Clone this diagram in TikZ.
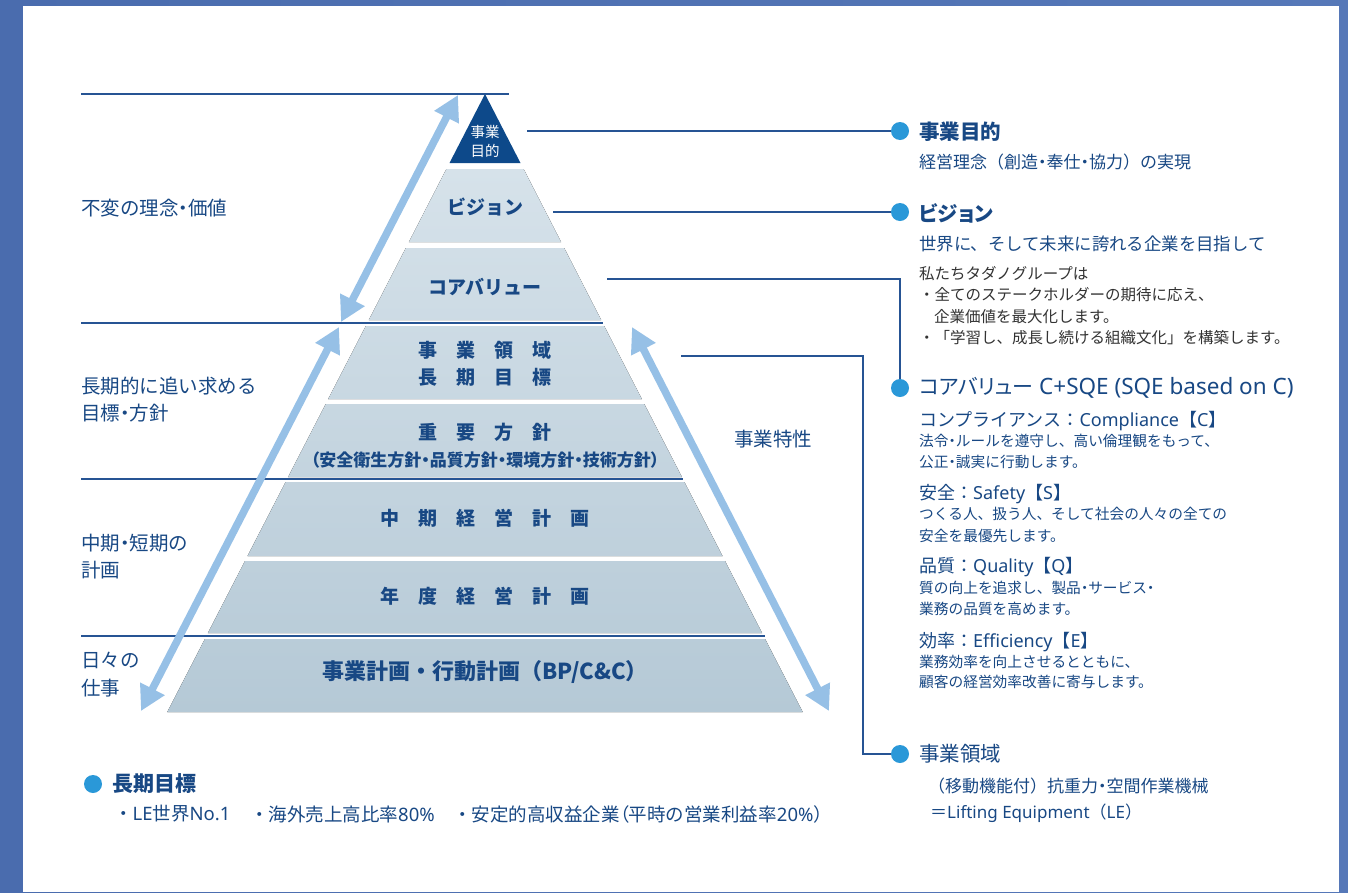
\documentclass[tikz,border=0pt]{standalone}
\usepackage{fontspec}
\setmainfont{Noto Sans CJK JP}
\newfontfamily\pfont{Noto Sans CJK JP}[RawFeature={+palt}]
\newfontfamily\lat{Noto Sans}
\usetikzlibrary{arrows.meta}
\definecolor{frameA}{RGB}{74,108,174}
\definecolor{frameB}{RGB}{86,120,184}
\definecolor{txtC}{RGB}{24,72,132}
\definecolor{grayC}{RGB}{51,51,51}
\definecolor{connC}{RGB}{38,84,148}
\definecolor{dotC}{RGB}{42,152,216}
\definecolor{arrC}{RGB}{150,192,230}
\definecolor{apexC}{RGB}{13,73,138}
\definecolor{pyrA}{RGB}{214,226,234}
\definecolor{pyrB}{RGB}{181,201,214}
\newcommand\fsz[1]{\fontsize{#1pt}{#1pt}\selectfont}
\newcommand\pd{{\pfont ・}}
\begin{document}
\begin{tikzpicture}[x=1pt,y=-1pt,
  conn/.style={draw=connC, line width=1.3pt},
  sepline/.style={draw=connC, line width=1.8pt},
  dot/.style={circle, fill=dotC, minimum size=18pt, inner sep=0pt},
  bigarrow/.style={draw=arrC, line width=7.5pt, {Triangle[length=25pt,width=26pt]}-{Triangle[length=25pt,width=26pt]}},
  tw/.style={anchor=west, inner sep=0pt, text=txtC},
  tc/.style={anchor=center, inner sep=0pt, text=txtC},
  tg/.style={anchor=west, inner sep=0pt, text=grayC}]
\useasboundingbox (0,0) rectangle (1348,892);
\shade[left color=frameA, right color=frameB] (0,0) rectangle (1348,892);
\fill[white] (23,6) rectangle (1339,892);

% separators
\coordinate (h0a) at (81,94);  \coordinate (h0b) at (509,94);
\coordinate (h1a) at (81,323); \coordinate (h1b) at (603,323);
\coordinate (h2a) at (81,479); \coordinate (h2b) at (683,479);
\coordinate (h3a) at (81,636); \coordinate (h3b) at (765,636);

% pyramid tiers
\fill[apexC] (485,94) -- (520.5,163) -- (449.5,163) -- cycle;
\fill[top color=pyrB!0!pyrA, bottom color=pyrB!13!pyrA] (446.4,169) -- (523.6,169) -- (561.1,242) -- (408.9,242) -- cycle;
\fill[top color=pyrB!15!pyrA, bottom color=pyrB!28!pyrA] (405.8,248) -- (564.2,248) -- (601.2,320) -- (368.8,320) -- cycle;
\fill[top color=pyrB!29!pyrA, bottom color=pyrB!42!pyrA] (365.8,326) -- (604.2,326) -- (641.8,399) -- (328.2,399) -- cycle;
\fill[top color=pyrB!43!pyrA, bottom color=pyrB!57!pyrA] (325.7,404) -- (644.3,404) -- (681.9,477) -- (288.1,477) -- cycle;
\fill[top color=pyrB!58!pyrA, bottom color=pyrB!71!pyrA] (285.6,482) -- (684.4,482) -- (722.5,556) -- (247.5,556) -- cycle;
\fill[top color=pyrB!72!pyrA, bottom color=pyrB!86!pyrA] (245.0,561) -- (725.0,561) -- (762.1,633) -- (207.9,633) -- cycle;
\fill[top color=pyrB!87!pyrA, bottom color=pyrB!100!pyrA] (204.9,639) -- (765.1,639) -- (802.7,712) -- (167.3,712) -- cycle;

\draw[sepline] (h0a) -- (h0b);
\draw[sepline] (h1a) -- (h1b);
\draw[sepline] (h2a) -- (h2b);
\draw[sepline] (h3a) -- (h3b);

% big arrows
\coordinate (a1s) at (341,322); \coordinate (a1e) at (458,95);
\coordinate (a2s) at (141,711); \coordinate (a2e) at (339,327);
\coordinate (a3s) at (632,327); \coordinate (a3e) at (829,711);
\draw[bigarrow] (a1s) -- (a1e);
\draw[bigarrow] (a2s) -- (a2e);
\draw[bigarrow] (a3s) -- (a3e);

% pyramid texts
\node[tc, text=white, font=\fsz{14.5}] (p0a) at (485,132) {事業};
\node[tc, text=white, font=\fsz{14.5}] (p0b) at (485,151) {目的};
\node[tc, font=\fsz{19}\bfseries] (p1) at (485,207) {ビジョン};
\node[tc, font=\fsz{19}\bfseries] (p2) at (485,287) {コアバリュー};
\node[tc, font=\fsz{19}\bfseries] (p3a) at (485,350) {事　業　領　域};
\node[tc, font=\fsz{19}\bfseries] (p3b) at (485,377) {長　期　目　標};
\node[tc, font=\fsz{19}\bfseries] (p4a) at (485,432) {重　要　方　針};
\node[tc, font=\pfont\fsz{17}\bfseries] (p4b) at (485,460) {（安全衛生方針・品質方針・環境方針・技術方針）};
\node[tc, font=\fsz{19}\bfseries] (p5) at (485,518) {中　期　経　営　計　画};
\node[tc, font=\fsz{19}\bfseries] (p6) at (485,596) {年　度　経　営　計　画};
\node[tc, font=\fsz{22}\bfseries] (p7) at (485,672) {事業計画・行動計画（BP/C\&C）};

% left labels
\node[tw, font=\fsz{19.5}] (l1) at (81,208) {不変の理念\pd 価値};
\node[tw, font=\fsz{19.5}] (l2a) at (81,386) {長期的に追い求める};
\node[tw, font=\fsz{19.5}] (l2b) at (81,413) {目標\pd 方針};
\node[tw, font=\fsz{19.5}] (l3a) at (81,543) {中期\pd 短期の};
\node[tw, font=\fsz{19.5}] (l3b) at (81,570) {計画};
\node[tw, font=\fsz{19.5}] (l4a) at (81,660) {日々の};
\node[tw, font=\fsz{19.5}] (l4b) at (81,688) {仕事};
\node[tw, font=\fsz{19.5}] (tk) at (734,439) {事業特性};

% connectors
\coordinate (s1) at (527,131);
\coordinate (s2) at (553,212);
\coordinate (s3) at (607,279);
\coordinate (s4) at (681,356);
\coordinate (k4) at (863,356);
\node[dot] (d1) at (900,131) {};
\node[dot] (d2) at (900,212) {};
\node[dot] (d3) at (900,388) {};
\node[dot] (d4) at (900,754) {};
\draw[conn] (s1) -- (d1);
\draw[conn] (s2) -- (d2);
\draw[conn] (s3) -| (d3);
\draw[conn] (s4) -- (k4) |- (d4);

% right column
\node[tw, font=\pfont\fsz{20.5}\bfseries] (r1) at (919,132) {事業目的};
\node[tw, font=\fsz{17}] (r1b) at (919,162) {経営理念（創造\pd 奉仕\pd 協力）の実現};
\node[tw, font=\pfont\fsz{20.5}\bfseries] (r2) at (919,213) {ビジョン};
\node[tw, font=\fsz{17.4}] (r2b) at (919,244) {世界に、そして未来に誇れる企業を目指して};
\node[tg, font=\fsz{15.5}] (r2c) at (919,274) {私たちタダノグループは};
\node[tg, font=\fsz{15.5}] (r2d) at (919,295) {・全てのステークホルダーの期待に応え、};
\node[tg, font=\fsz{15.5}] (r2e) at (934,317) {企業価値を最大化します。};
\node[tg, font=\fsz{15.5}] (r2f) at (919,338) {・「学習し、成長し続ける組織文化」を構築します。};

\node[tw, font=\pfont\fsz{21}] (r3) at (919,388) {コアバリュー{\lat\fsz{22.5} C+SQE (SQE based on C)}};
\node[tw, font=\fsz{18}] (r3a) at (919,421) {コンプライアンス：{\lat Compliance}【{\lat C}】};
\node[tw, font=\fsz{14.7}] (r3a1) at (919,441) {法令\pd ルールを遵守し、高い倫理観をもって、};
\node[tw, font=\fsz{14.7}] (r3a2) at (919,462) {公正\pd 誠実に行動します。};
\node[tw, font=\fsz{18}] (r3b) at (919,494) {安全：{\lat Safety}【{\lat S}】};
\node[tw, font=\fsz{14.7}] (r3b1) at (919,514) {つくる人、扱う人、そして社会の人々の全ての};
\node[tw, font=\fsz{14.7}] (r3b2) at (919,536) {安全を最優先します。};
\node[tw, font=\fsz{18}] (r3c) at (919,567) {品質：{\lat Quality}【{\lat Q}】};
\node[tw, font=\fsz{14.7}] (r3c1) at (919,588) {質の向上を追求し、製品\pd サービス\pd};
\node[tw, font=\fsz{14.7}] (r3c2) at (919,609) {業務の品質を高めます。};
\node[tw, font=\fsz{18}] (r3d) at (919,642) {効率：{\lat Efficiency}【{\lat E}】};
\node[tw, font=\fsz{14.7}] (r3d1) at (919,662) {業務効率を向上させるとともに、};
\node[tw, font=\fsz{14.7}] (r3d2) at (919,682) {顧客の経営効率改善に寄与します。};

\node[tw, font=\fsz{20.5}] (r4) at (919,754) {事業領域};
\node[tw, font=\fsz{17}] (r4a) at (928,786) {（移動機能付）抗重力\pd 空間作業機械};
\node[tw, font=\fsz{17}] (r4b) at (930,813) {＝{\lat Lifting Equipment}（{\lat LE}）};

% bottom
\node[dot] (d5) at (93,784) {};
\node[tw, font=\fsz{21}\bfseries] (b1) at (112,784) {長期目標};
\node[tw, font=\fsz{18.5}] (b2a) at (114,814) {・{\lat LE}世界{\lat No.1}};
\node[tw, font=\fsz{18.5}] (b2b) at (250,814) {・海外売上高比率{\lat 80\%}};
\node[tw, font=\fsz{18.5}] (b2c) at (453,814) {・安定的高収益企業{\pfont （}平時の営業利益率{\lat 20\%}）};
\end{tikzpicture}
\end{document}
